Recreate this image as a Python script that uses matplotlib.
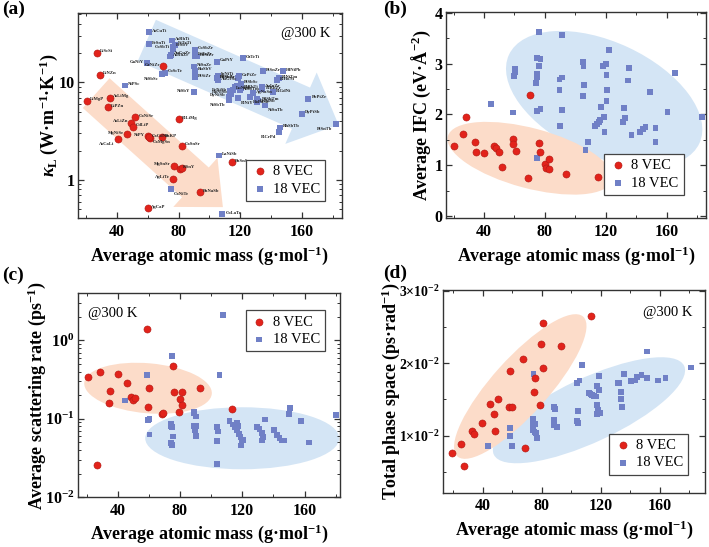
import numpy as np
import matplotlib
matplotlib.use('Agg')
import matplotlib.pyplot as plt
from matplotlib.patches import Ellipse, FancyArrow
from matplotlib import transforms as mtransforms
from matplotlib.ticker import MultipleLocator, LogLocator, FuncFormatter, NullFormatter

plt.rcParams['font.family'] = 'Liberation Serif'
plt.rcParams['mathtext.fontset'] = 'custom'
plt.rcParams['mathtext.rm'] = 'Liberation Serif:bold'
plt.rcParams['mathtext.it'] = 'Liberation Serif:italic:bold'
plt.rcParams['mathtext.bf'] = 'Liberation Serif:bold'

RED = '#e2231b'
BLUE = '#7080c6'
PEACH = '#fcdcc9'
SKY = '#d4e5f5'

# ---- (a) lattice thermal conductivity @300 K ----
a_red_names = ['LiScSi', 'LiNZn', 'LiMgP', 'AsLiMg', 'LiPZn', 'CaNiSr', 'AsLiZn', 'CdLiP',
               'MgNiSe', 'AsCaLi', 'NiPY', 'CaMgSn', 'CaCdNi', 'BaKP', 'CaSnSr', 'BiLiMg',
               'GeNiZr', 'MgSnSr', 'KSnY', '', 'AgLiTe', 'BaNaSb', 'AgCaP', 'BaSnSr']
a_red_mass = [26.6, 28.5, 20.5, 35.2, 34.1, 51.7, 48.9, 50.0, 46.3, 40.4, 60.2, 61.0,
              60.6, 69.1, 81.9, 79.9, 70.0, 76.7, 81.0, 82.1, 76.0, 94.0, 59.8, 114.4]
a_red_kappa = [20.3, 12.0, 6.5, 6.95, 5.6, 4.43, 3.85, 3.53, 2.94, 2.62, 2.81, 2.72,
               2.76, 2.74, 2.25, 4.2, 14.6, 1.40, 1.30, 1.31, 1.03, 0.75, 0.515, 1.51]

a_blue_names = ['AsCuTi', 'FeSnTi', 'AsRhTi', 'FeTaTi', 'CoSbTi', 'FeSbV', 'AuCuZr', 'AsRhZr',
                'CoSbZr', 'FeTaZr', 'PdSiZr', 'GaNiY', 'GaPtY', 'OsTeTi', 'NiSbSc', 'CoScTe',
                'NiSnZr', 'RuSbV', 'PtSiZr', 'PdSnZr', 'InNiTi', 'AuGeSc', 'GePtZr', 'PdSbSc',
                'PtSnZr', 'HfNiPb', 'BiNiTm', 'BiHoNi', 'BiGdNi', 'AuInZr', 'BiRhZr', 'NiPSc',
                'NiSbY', 'ErNiSb', 'HoNiSb', 'LuNiSb', '', '', 'PtSbSc', 'BiRhTi', '', 'BiNiY',
                'AgNaSn', 'PdSbTm', 'ErPdSb', '', 'NiSnTb', 'PbPtZr', 'DyPtSb', 'RhSbTb',
                'BiCrPd', 'PtSnTb', 'LaNiSb', 'CaNiTe', 'CoLaTe', 'DyNiSb', 'NiSbTb',
                'HoPdSb', 'NiSbTm']
a_blue_mass = [60.6, 60.6, 75.4, 77.3, 76.2, 76.0, 74.7, 74.3, 90.5, 90.3, 92.1, 59.3,
               104.9, 121.8, 69.1, 71.2, 90.1, 90.8, 90.3, 104.6, 105.7, 105.3, 119.2, 118.5,
               135.0, 148.0, 145.4, 144.1, 141.5, 133.9, 134.4, 45.0, 89.7, 113.3, 114.0,
               115.5, 116.6, 118.1, 120.3, 120.5, 119.8, 118.7, 128.5, 131.8, 131.1, 130.7,
               136.1, 164.3, 160.0, 145.9, 145.4, 182.1, 106.2, 75.1, 108.3, 112.5, 112.5,
               126.3, 120.0]
a_blue_kappa = [32.9, 24.8, 27.0, 24.4, 22.2, 23.4, 19.2, 18.5, 21.7, 18.8, 18.5, 15.8,
                16.3, 17.7, 12.3, 12.6, 14.6, 13.2, 11.3, 11.0, 11.7, 10.6, 11.6, 11.0,
                13.0, 13.0, 11.1, 10.6, 8.0, 8.96, 8.55, 9.31, 8.0, 8.09, 7.66,
                8.41, 8.96, 9.25, 9.69, 8.74, 9.25, 6.90, 7.76, 6.53, 6.23, 6.79,
                5.81, 6.79, 4.77, 3.45, 3.09, 3.76, 1.78, 0.81, 0.444, 7.18, 6.64,
                7.06, 8.3]

# ---- (b) average interatomic force constant ----
b_red_mass = [20.3, 26.0, 28.2, 34.1, 35.0, 40.2, 46.4, 48.1, 49.6, 51.6, 59.3, 59.3,
              60.8, 69.2, 70.0, 76.0, 77.1, 80.1, 81.0, 82.5, 82.5, 94.2, 114.8]
b_red_ifc = [1.38, 1.62, 1.95, 1.46, 1.27, 1.25, 1.38, 1.34, 1.27, 0.97, 1.51, 1.42,
             1.28, 0.75, 2.38, 1.43, 1.26, 1.03, 0.95, 1.13, 0.92, 0.82, 0.76]
b_blue_mass = [44.4, 59.1, 59.5, 60.2, 60.6, 74.0, 74.9, 75.1, 75.1, 76.0, 76.0, 75.1,
               77.1, 77.1, 75.1, 89.6, 91.3, 89.8, 89.6, 91.1, 91.3, 105.1, 105.4, 105.8,
               104.9, 106.7, 108.6, 118.3, 120.0, 120.5, 121.1, 120.5, 122.2, 117.0, 119.0,
               119.2, 113.2, 114.5, 115.4, 116.3, 132.1, 132.8, 131.4, 135.2, 134.7, 136.9,
               148.8, 142.4, 144.6, 146.1, 152.7, 152.7, 160.6, 165.4, 183.0]
b_blue_ifc = [2.21, 2.04, 2.76, 2.90, 2.84, 2.62, 3.12, 2.79, 2.73, 2.95, 3.63, 2.07,
              2.11, 3.10, 1.15, 2.69, 2.73, 1.78, 2.49, 3.56, 2.08, 3.04, 2.96, 2.58,
              2.37, 1.30, 1.46, 2.96, 2.99, 2.78, 2.49, 2.26, 3.27, 2.14, 1.95,
              1.65, 1.78, 1.82, 1.86, 1.89, 2.12, 1.93, 1.86, 2.92, 2.67, 1.59,
              2.45, 1.65, 1.71, 1.75, 1.74, 1.46, 2.05, 2.82, 1.95]

# ---- (c) average scattering rate @300 K ----
c_red_mass = [20.9, 28.6, 26.9, 40.2, 46.2, 35.3, 34.2, 48.8, 49.9, 51.4, 59.1, 60.4,
              59.7, 68.5, 69.4, 75.4, 76.0, 80.3, 79.4, 81.6, 81.6, 93.1, 113.3]
c_red_rate = [0.337, 0.394, 0.0254, 0.375, 0.288, 0.225, 0.160, 0.189, 0.174, 0.183, 1.41,
              0.244, 0.142, 0.116, 0.120, 0.470, 0.221, 0.180, 0.122, 0.221, 0.148, 0.246,
              0.135]
c_blue_mass = [59.1, 44.7, 59.5, 60.4, 60.4, 74.9, 107.5, 105.4, 88.9, 90.4,
               74.5, 75.0, 74.2, 75.4, 74.5, 74.8, 88.9, 90.4, 88.9, 90.3, 89.5, 90.4,
               103.9, 104.5, 104.0, 103.9, 111.8, 113.9, 115.6, 116.7, 117.8, 118.9, 119.9,
               120.4, 116.9, 117.4, 119.0, 129.6, 131.1, 132.8, 133.2, 132.8, 134.9, 140.3,
               142.4, 143.9, 145.6, 147.1, 150.6, 149.9, 158.0, 162.8, 180.0]
c_blue_rate = [0.365, 0.171, 0.0955, 0.100, 0.063, 0.631, 2.13, 0.365, 0.122, 0.107,
               0.0863, 0.078, 0.082, 0.0594, 0.049, 0.046, 0.118, 0.107, 0.082, 0.082, 0.071,
               0.061, 0.078, 0.069, 0.052, 0.0267, 0.0934, 0.0847, 0.0783, 0.071, 0.0645,
               0.0583, 0.054, 0.054, 0.0898, 0.082, 0.0457, 0.078, 0.0745, 0.0656, 0.0583,
               0.0529, 0.098, 0.072, 0.0625, 0.0572, 0.0529, 0.0529, 0.138, 0.114, 0.093,
               0.0499, 0.111]

# ---- (d) total phase space @300 K ----
d_red_mass = [19.1, 25.1, 26.9, 32.9, 33.8, 39.1, 45.1, 47.4, 48.3, 50.3, 57.9, 59.5,
              58.6, 67.4, 68.3, 74.7, 75.6, 78.6, 79.3, 80.7, 80.9, 93.1, 113.3]
d_red_phase = [0.00757, 0.00881, 0.00583, 0.0106, 0.0102, 0.0118, 0.0144, 0.0130, 0.0106,
               0.0150, 0.0140, 0.0140, 0.0189, 0.0206, 0.00826, 0.0160, 0.0180, 0.0142,
               0.0227, 0.0256, 0.0193, 0.0224, 0.0265]
d_blue_mass = [43.4, 58.2, 58.4, 59.5, 74.3, 73.8, 74.0, 75.6, 74.0, 75.0, 76.0, 76.6,
               88.0, 89.0, 88.0, 88.3, 90.3, 103.9, 104.6, 104.4, 103.7, 105.5, 107.1,
               111.7, 113.0, 114.0, 115.6, 116.9, 117.5, 118.6, 117.2, 118.0, 117.6, 119.5,
               119.0, 131.3, 132.4, 133.6, 133.8, 134.3, 135.6, 140.7, 143.0, 144.4, 147.6,
               151.3, 151.5, 158.9, 163.9, 181.4]
d_blue_phase = [0.00862, 0.0110, 0.0100, 0.00862, 0.0185, 0.0123, 0.0114, 0.0116, 0.0107,
                0.0105, 0.0103, 0.00968, 0.0139, 0.0137, 0.0121, 0.0114, 0.0112, 0.0120,
                0.0117, 0.0134, 0.0172, 0.0176, 0.0197, 0.0159, 0.0157, 0.0156, 0.0155,
                0.0154, 0.0168, 0.0163, 0.0142, 0.0136, 0.0130, 0.0131, 0.0182, 0.0172,
                0.0173, 0.0160, 0.0150, 0.0139, 0.0185, 0.0175, 0.0176, 0.0181, 0.0183,
                0.0216, 0.0179, 0.0176, 0.0179, 0.0194]

# labels that sit left of / below their marker in (a)
left_labels = {'AsLiZn', 'MgNiSe', 'AsCaLi', 'NiPY', 'MgSnSr', 'AgLiTe', 'GeNiZr',
               'GaNiY', 'CoSbTi', 'NiSbY', 'DyNiSb', 'NiSbTb', 'BiCrPd', 'PtSnTb',
               'NiSbSc', 'HoNiSb', 'ErNiSb', 'PdSbSc'}
low_labels = {'CaMgSn', 'AsCaLi', 'HoPdSb', 'BiCrPd', 'PtSnTb', 'NiSbSc', 'CaNiTe',
              'NiSnTb', 'NiSbTb', 'BiNiY'}

fig = plt.figure(figsize=(7.09, 5.47), dpi=100)
ax_a = fig.add_axes([0.110, 0.601, 0.372, 0.375])
ax_b = fig.add_axes([0.629, 0.601, 0.367, 0.377])
ax_c = fig.add_axes([0.110, 0.091, 0.370, 0.373])
ax_d = fig.add_axes([0.625, 0.099, 0.370, 0.371])


def blob(ax, c, a, b, ang, color):
    trans = fig.dpi_scale_trans + mtransforms.ScaledTranslation(c[0], c[1], ax.transAxes)
    ax.add_patch(Ellipse((0, 0), 2 * a, 2 * b, angle=ang, transform=trans,
                         facecolor=color, edgecolor='none', zorder=0))


def fat_arrow(ax, tail, d, w, hw, hl, color):
    trans = fig.dpi_scale_trans + mtransforms.ScaledTranslation(tail[0], tail[1], ax.transAxes)
    ax.add_patch(FancyArrow(0, 0, d[0], d[1], width=w, head_width=hw, head_length=hl,
                            length_includes_head=True, transform=trans,
                            facecolor=color, edgecolor='none', zorder=0))


def points(ax, xr, yr, xb, yb, loc, anchor):
    ax.scatter(xr, yr, s=26, marker='o', color=RED, edgecolors='#b01a14', linewidths=0.4,
               zorder=3, label='8 VEC')
    ax.scatter(xb, yb, s=18, marker='s', color=BLUE, edgecolors='none', zorder=2,
               label='18 VEC')
    leg = ax.legend(loc=loc, bbox_to_anchor=anchor, fontsize=10.5, fancybox=False,
                    edgecolor='#444444', framealpha=1, handletextpad=0.3,
                    borderpad=0.35, labelspacing=0.3, handlelength=1.2)
    leg.get_frame().set_linewidth(0.9)


def style(ax, ylabel, ypad):
    ax.tick_params(which='both', direction='in', top=True, right=True, color='#333333')
    ax.tick_params(which='major', length=4, width=0.9, labelsize=11.5)
    ax.tick_params(axis='x', which='major', pad=4)
    ax.tick_params(axis='y', which='major', pad=2.5)
    ax.tick_params(which='minor', length=2, width=0.7)
    for lab in ax.get_xticklabels() + ax.get_yticklabels():
        lab.set_fontweight('bold')
    for sp in ax.spines.values():
        sp.set_linewidth(1.0)
        sp.set_color('#333333')
    ax.xaxis.set_major_locator(MultipleLocator(40))
    ax.xaxis.set_minor_locator(MultipleLocator(20))
    ax.set_xlabel('Average atomic mass (g·mol$^{-1}$)', fontsize=13, fontweight='bold',
                  labelpad=3)
    ax.set_ylabel(ylabel, fontsize=13, fontweight='bold', labelpad=ypad)


# (a)
ax_a.set_yscale('log')
fat_arrow(ax_a, (0.069, 0.610), (1.267, -1.14), 0.40, 0.66, 0.37, PEACH)
fat_arrow(ax_a, (0.261, 0.867), (1.917, -0.843), 0.45, 0.78, 0.41, SKY)
points(ax_a, a_red_mass, a_red_kappa, a_blue_mass, a_blue_kappa, 'lower right', (0.966, 0.049))
for names, xs, ys in [(a_red_names, a_red_mass, a_red_kappa),
                      (a_blue_names, a_blue_mass, a_blue_kappa)]:
    for n, x, y in zip(names, xs, ys):
        if not n:
            continue
        dx = -2.2 if n in left_labels else 2.2
        dy = -3.5 if n in low_labels else 1
        ax_a.annotate(n, (x, y), xytext=(dx, dy), textcoords='offset points',
                      ha='right' if n in left_labels else 'left', va='center',
                      fontsize=3.3, fontweight='bold', color='#222222', zorder=4)
ax_a.text(0.864, 0.902, '@300 K', transform=ax_a.transAxes, ha='center', va='center',
          fontsize=10.5)
ax_a.set_xlim(14.5, 186)
ax_a.set_ylim(0.404, 51.5)
ax_a.yaxis.set_major_locator(LogLocator(base=10, numticks=5))
ax_a.yaxis.set_major_formatter(FuncFormatter(lambda v, p: '%g' % v))
ax_a.yaxis.set_minor_locator(LogLocator(base=10, subs=np.arange(2, 10), numticks=10))
ax_a.yaxis.set_minor_formatter(NullFormatter())
style(ax_a, r'$\kappa_{\rm L}$ (W·m$^{-1}$·K$^{-1}$)', -1)

# (b)
blob(ax_b, (0.608, 0.578), 1.05, 0.57, -25, SKY)
blob(ax_b, (0.323, 0.291), 0.85, 0.30, -15, PEACH)
points(ax_b, b_red_mass, b_red_ifc, b_blue_mass, b_blue_ifc, 'lower right', (0.942, 0.078))
ax_b.set_xlim(15, 186)
ax_b.set_ylim(-0.046, 4.02)
ax_b.yaxis.set_major_locator(MultipleLocator(1))
ax_b.yaxis.set_minor_locator(MultipleLocator(0.5))
style(ax_b, 'Average IFC (eV·Å$^{-2}$)', 1)

# (c)
ax_c.set_yscale('log')
blob(ax_c, (0.626, 0.289), 0.97, 0.31, 0, SKY)
blob(ax_c, (0.267, 0.534), 0.64, 0.25, -5, PEACH)
points(ax_c, c_red_mass, c_red_rate, c_blue_mass, c_blue_rate, 'upper right', (0.969, 0.951))
ax_c.text(0.04, 0.902, '@300 K', transform=ax_c.transAxes, ha='left', va='center',
          fontsize=10.5)
ax_c.set_xlim(14.5, 183)
ax_c.set_ylim(0.01, 4.0)
ax_c.yaxis.set_major_locator(LogLocator(base=10, numticks=5))
ax_c.yaxis.set_minor_locator(LogLocator(base=10, subs=np.arange(2, 10), numticks=10))
ax_c.yaxis.set_minor_formatter(NullFormatter())
style(ax_c, 'Average scattering rate (ps$^{-1}$)', -2)

# (d)
blob(ax_d, (0.556, 0.407), 1.05, 0.32, 25, SKY)
blob(ax_d, (0.294, 0.524), 0.94, 0.28, 48, PEACH)
points(ax_d, d_red_mass, d_red_phase, d_blue_mass, d_blue_phase, 'lower right', (0.962, 0.054))
ax_d.text(0.855, 0.887, '@300 K', transform=ax_d.transAxes, ha='center', va='center',
          fontsize=10.5)
ax_d.set_xlim(13, 191)
ax_d.set_ylim(0.0021, 0.0301)
ax_d.yaxis.set_major_locator(MultipleLocator(0.01))
ax_d.yaxis.set_minor_locator(MultipleLocator(0.005))
ax_d.yaxis.set_major_formatter(FuncFormatter(
    lambda v, p: r'$%d{\times}10^{-2}$' % round(v * 100) if v > 0.001 else ''))
style(ax_d, 'Total phase space (ps·rad$^{-1}$)', -2)
ax_d.tick_params(axis='y', which='major', labelsize=10)

for txt, x, y in [('(a)', 0.003, 0.998), ('(b)', 0.540, 0.998),
                  ('(c)', 0.003, 0.512), ('(d)', 0.540, 0.517)]:
    fig.text(x, y, txt, ha='left', va='top', fontsize=14, fontweight='bold')

fig.savefig('out.png', dpi=100)
